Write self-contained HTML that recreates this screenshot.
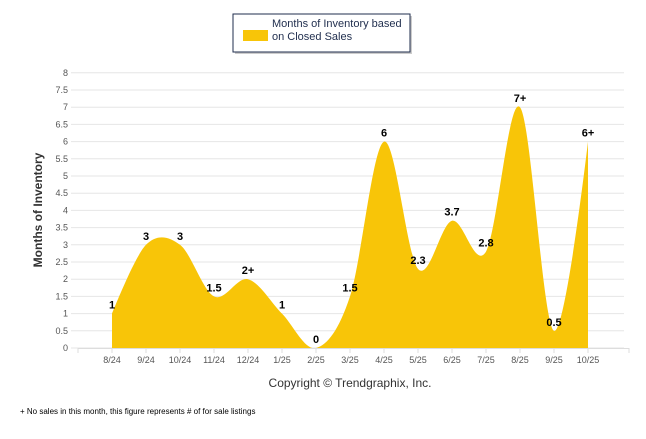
<!DOCTYPE html>
<html><head><meta charset="utf-8"><style>
body{margin:0;background:#fff;font-family:"Liberation Sans",sans-serif}
svg text{font-family:"Liberation Sans",sans-serif}
</style></head><body>
<svg width="646" height="434" viewBox="0 0 646 434" id="c">
<defs><clipPath id="plot"><rect x="60" y="40" width="580" height="308"/></clipPath></defs>
<g>
<rect x="235" y="16" width="177" height="38" fill="#999" opacity="0.5"/>
<rect x="233" y="14" width="177" height="38" fill="#fff" stroke="#1f2d4d" stroke-width="1"/>
<rect x="243" y="30" width="25" height="11" fill="#f8c508"/>
<text x="272" y="27" font-size="11" fill="#1f2d4d">Months of Inventory based</text>
<text x="272" y="40" font-size="11" fill="#1f2d4d">on Closed Sales</text>
</g>
<g id="grid"></g>
<path id="area" fill="#f8c508" clip-path="url(#plot)"/>
<g id="labels"></g>
<g id="xaxis"></g>
<text x="0" y="0" transform="translate(42,210) rotate(-90)" text-anchor="middle" font-size="12" font-weight="bold" fill="#333">Months of Inventory</text>
<text x="350" y="387" text-anchor="middle" font-size="12" fill="#333">Copyright © Trendgraphix, Inc.</text>
<text x="20" y="414" font-size="8" fill="#000">+  No sales in this month, this figure represents # of for sale listings</text>
</svg>
<script>
const categories=["8/24","9/24","10/24","11/24","12/24","1/25","2/25","3/25","4/25","5/25","6/25","7/25","8/25","9/25","10/25"];
const values=[1,3,3,1.5,2,1,0,1.5,6,2.3,3.7,2.8,7,0.5,6];
const valueLabels=["1","3","3","1.5","2+","1","0","1.5","6","2.3","3.7","2.8","7+","0.5","6+"];
const yTicks=[0,0.5,1,1.5,2,2.5,3,3.5,4,4.5,5,5.5,6,6.5,7,7.5,8];
const NS="http://www.w3.org/2000/svg";
const X0=112,DX=34,Y0=348,YS=34.4;
const xs=i=>X0+i*DX, ys=v=>Y0-v*YS;
const grid=document.getElementById('grid');
function mk(tag,attrs,parent,txt){const e=document.createElementNS(NS,tag);for(const k in attrs)e.setAttribute(k,attrs[k]);if(txt!==undefined)e.textContent=txt;parent.appendChild(e);return e;}
yTicks.forEach(t=>{
 const l=mk('line',{x1:71,x2:624,y1:ys(t),y2:ys(t),stroke:'#e6e6e6','stroke-width':1},grid);
 
 
 const tx=mk('text',{x:68,y:ys(t)+3,'text-anchor':'end','font-size':9,fill:'#555'},grid,String(t));
 
 
});
const xa=document.getElementById('xaxis');
mk('line',{x1:78,x2:629,y1:Y0+0.5,y2:Y0+0.5,stroke:'#ddd'},xa);
for(let i=-1;i<=categories.length;i++){const x=i<0?78:(i==categories.length?629:xs(i));mk('line',{x1:x,x2:x,y1:Y0,y2:Y0+5,stroke:'#ddd'},xa);}
categories.forEach((c,i)=>{
 const t=mk('text',{x:xs(i),y:363,'text-anchor':'middle','font-size':9,fill:'#555'},xa,c);
 
 
});
// Catmull-Rom style spline (no clamping -> natural overshoot)
const pts=values.map((v,i)=>[xs(i),ys(v)]);
const T=0.3;
let d=`M${pts[0][0]},${Y0} L${pts[0][0]},${pts[0][1]}`;
for(let i=0;i<pts.length-1;i++){
 const p0=pts[Math.max(0,i-1)],p1=pts[i],p2=pts[i+1],p3=pts[Math.min(pts.length-1,i+2)];
 const s1=(i==0)?0:T, s2=(i+1==pts.length-1)?0:T;
 const c1=[p1[0]+(p2[0]-p0[0])*s1/1.0*0.5*1.1,p1[1]+(p2[1]-p0[1])*s1*0.55];
 const c2=[p2[0]-(p3[0]-p1[0])*s2*0.55,p2[1]-(p3[1]-p1[1])*s2*0.55];
 d+=` C${c1[0]},${c1[1]} ${c2[0]},${c2[1]} ${p2[0]},${p2[1]}`;
}
d+=` L${pts[pts.length-1][0]},${Y0} Z`;
document.getElementById('area').setAttribute('d',d);
const lg=document.getElementById('labels');
valueLabels.forEach((s,i)=>{
 const t=mk('text',{x:xs(i),y:ys(values[i])-5,'text-anchor':'middle','font-size':11,'font-weight':'bold',fill:'#000'},lg,s);
 
 
});
</script>
</body></html>
